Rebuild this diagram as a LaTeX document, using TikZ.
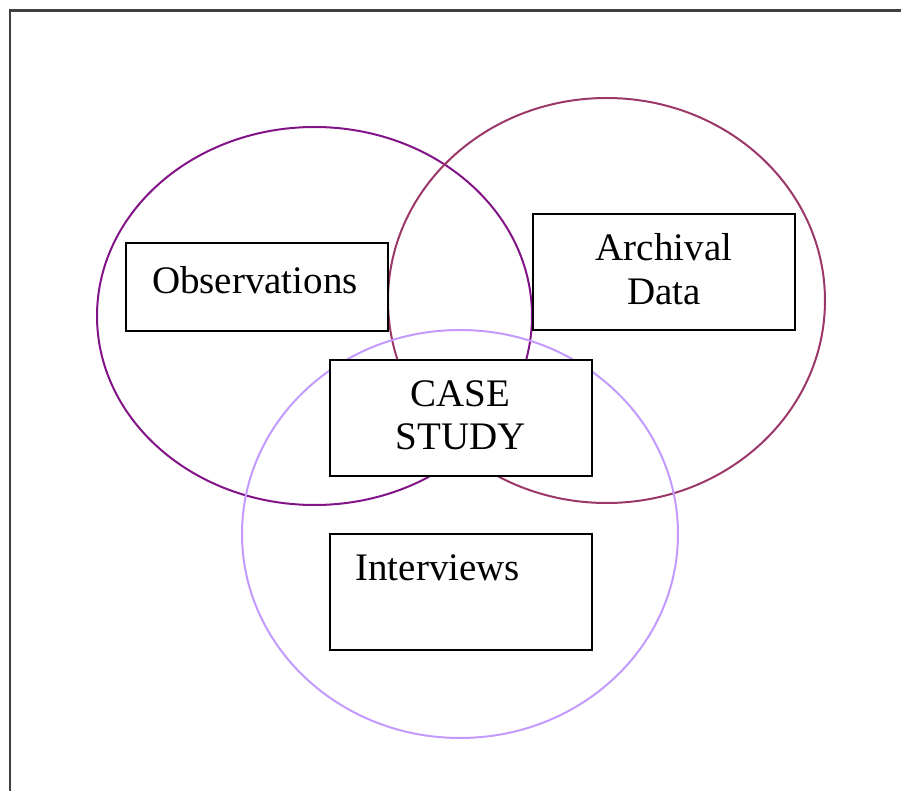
\documentclass[tikz,border=0pt]{standalone}
\usepackage{fontspec}
\setmainfont{Liberation Serif}
\usetikzlibrary{positioning}

\definecolor{obscol}{RGB}{130,20,135}
\definecolor{arccol}{RGB}{155,55,105}
\definecolor{intcol}{RGB}{195,155,255}

\begin{document}
\begin{tikzpicture}[x=0.5pt, y=-0.5pt,
    src/.style={draw=black, line width=1pt, fill=white, minimum width=131pt, inner sep=0pt, font=\fontsize{19.5}{21.8}\selectfont, align=center},
    ring/.style={line width=1pt}]
                \useasboundingbox (0,0) rectangle (901,791);
                % frame on the top and left
                \draw[line width=1.3pt, black!75] (10,791) -- (10,10.5) -- (901,10.5);
                % the three sources
                \draw[ring, obscol] (314.5,316) ellipse [x radius=217.5, y radius=189];
                \draw[ring, arccol] (606.5,300.5) ellipse [x radius=218.5, y radius=202.5];
                \draw[ring, intcol] (460,534) ellipse [x radius=218, y radius=204];
                % boxes
                \node[src, minimum height=44pt, text width=120pt, align=left, text depth=7pt] (obs) at (257,287) {\hspace*{7.5pt}Observations};
                \node[src, minimum height=58pt, text depth=3pt] (arch) at (664,272) {Archival\\Data};
                \node[src, minimum height=58pt, text depth=3pt] (case) at (460.5,418) {CASE\\STUDY};
                \node[src, minimum height=58pt, text width=120pt, align=left, text depth=24pt] (int) at (460.5,592) {\hspace*{7.5pt}Interviews};
            \end{tikzpicture}
\end{document}
